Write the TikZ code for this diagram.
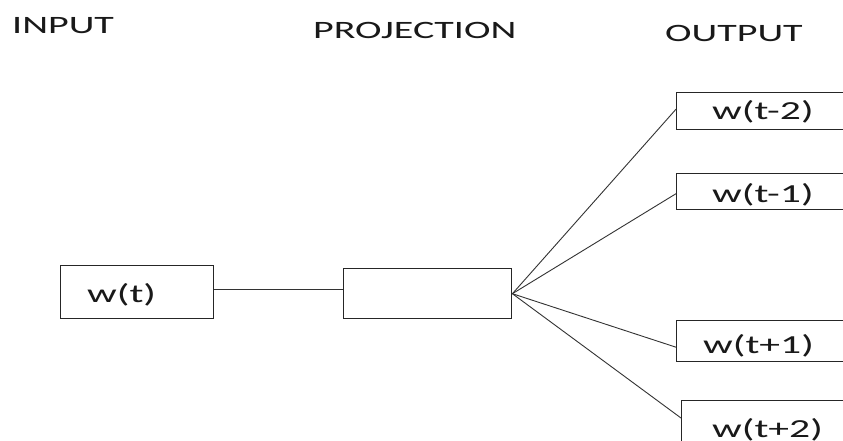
\documentclass[tikz,border=0pt]{standalone}
\usepackage{graphicx}
\usepackage{fontspec}
\setmainfont{Carlito}
\begin{document}
\begin{tikzpicture}[x=1pt,y=-1pt,
  box/.style={draw=black!85,line width=1.4pt,inner sep=0pt,anchor=north west},
  wire/.style={draw=black!80,line width=0.9pt},
  head/.style={anchor=base west,inner sep=0pt,text=black!90,
    font=\fontsize{25}{30}\selectfont},
  word/.style={anchor=base west,inner sep=0pt,text=black!90,
    font=\fontsize{26}{31}\selectfont}]
\clip (0,0) rectangle (843,440);
\fill[white] (0,0) rectangle (843,440);

% column headings
\node[head] (hin)   at (12,33)  {\scalebox{1.6}[1]{INPUT}};
\node[head] (hproj) at (313,38) {\scalebox{1.6}[1]{PROJECTION}};
\node[head] (hout)  at (665,41) {\scalebox{1.6}[1]{OUTPUT}};

% boxes
\node[box,minimum width=153pt,minimum height=53pt] (wt)   at (60,265)  {};
\node[box,minimum width=168pt,minimum height=50pt] (proj) at (343,268) {};
\node[box,minimum width=220pt,minimum height=37pt] (o1)   at (676,92)  {};
\node[box,minimum width=220pt,minimum height=36pt] (o2)   at (676,173) {};
\node[box,minimum width=220pt,minimum height=41pt] (o3)   at (676,320) {};
\node[box,minimum width=220pt,minimum height=80pt] (o4)   at (681,400) {};

% words
\node[word] (lt)  at (87,302)  {\scalebox{1.6}[1]{w(t)}};
\node[word] (l1)  at (712,119) {\scalebox{1.6}[1]{w(t-2)}};
\node[word] (l2)  at (712,202) {\scalebox{1.6}[1]{w(t-1)}};
\node[word] (l3)  at (703,353) {\scalebox{1.6}[1]{w(t+1)}};
\node[word] (l4)  at (712,437) {\scalebox{1.6}[1]{w(t+2)}};

% connectors
\draw[wire] ([yshift=3pt]wt.east) -- ([yshift=3pt]wt.east -| proj.west);
\draw[wire] (proj.east) -- ([yshift=2pt]o1.west);
\draw[wire] (proj.east) -- ([yshift=-2pt]o2.west);
\draw[wire] (proj.east) -- ([yshift=-6pt]o3.west);
\draw[wire] (proj.east) -- ([yshift=-18pt]o4.north west);
\end{tikzpicture}
\end{document}
